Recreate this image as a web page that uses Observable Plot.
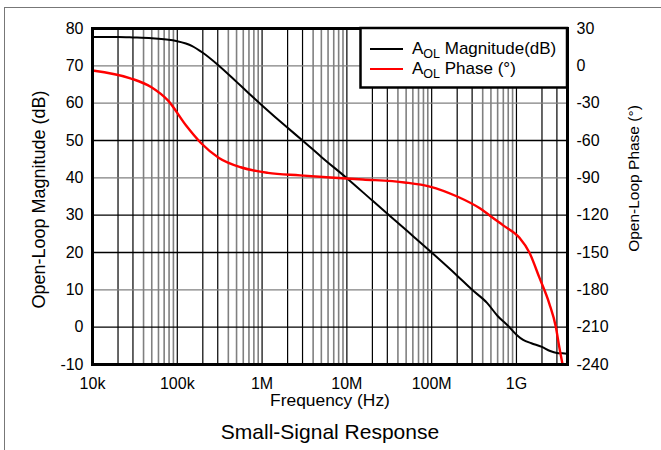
<!DOCTYPE html>
<html><head><meta charset="utf-8">
<script src="https://cdn.jsdelivr.net/npm/d3@7"></script>
<script src="https://cdn.jsdelivr.net/npm/@observablehq/plot@0.6"></script>
<style>
body{margin:0;background:#fff;}
#chart{position:relative;width:661px;height:450px;overflow:hidden;background:#fff;}
#frameTop{position:absolute;left:4px;top:7px;width:657px;height:0;border-top:1.5px solid #777;}
#frameLeft{position:absolute;left:4px;top:7px;width:0;height:443px;border-left:1.5px solid #777;}
</style></head><body>
<div id="chart"><div id="frameTop"></div><div id="frameLeft"></div></div>
<script>
// Magnitude (dB) vs frequency (Hz)
const magFreq = [1e4, 2e4, 3e4, 5e4, 7e4, 1e5, 1.5e5, 2e5, 3e5, 5e5, 7e5, 1e6, 2e6, 3e6, 5e6, 1e7, 2e7, 5e7, 1e8, 2e8, 3e8, 4.5e8, 6e8, 8e8, 1e9, 1.2e9, 1.5e9, 2e9, 2.5e9, 3e9, 3.5e9, 4e9];
const magDb   = [77.7, 77.7, 77.6, 77.4, 77.1, 76.6, 75.3, 73.5, 70.3, 65.7, 62.6, 59.4, 53.4, 50.0, 45.6, 39.9, 33.9, 26.0, 20.0, 13.8, 10.0, 6.5, 3.0, 0.3, -2.0, -3.4, -4.3, -5.3, -6.4, -6.9, -7.0, -7.1];
// Phase (degrees) vs frequency (Hz)
const phaseFreq = [1e4, 2.8e4, 4.9e4, 7.8e4, 1.27e5, 1.9e5, 3.1e5, 5.6e5, 1.17e6, 2.8e6, 6.4e6, 1.55e7, 4.8e7, 9.5e7, 2e8, 3.7e8, 4.8e8, 6.9e8, 1.08e9, 1.42e9, 1.86e9, 2.44e9, 2.92e9, 3.2e9, 3.5e9];
const phaseDeg  = [-3.7, -10, -17, -28, -48, -62, -74, -81.5, -86, -88, -89.7, -91.3, -93.7, -97, -105, -114.5, -120, -128, -138, -150, -170, -191, -210, -226, -240];
// Axes
const xTicks = [1e4, 1e5, 1e6, 1e7, 1e8, 1e9];
const xTickLabels = ["10k", "100k", "1M", "10M", "100M", "1G"];
const dbTicks = [-10, 0, 10, 20, 30, 40, 50, 60, 70, 80];
const phaseTicks = [-240, -210, -180, -150, -120, -90, -60, -30, 0, 30];
const xDomain = [1e4, 4e9];
const seriesNames = ["Magnitude(dB)", "Phase (°)"];

// phase -> dB-axis position (right axis is aligned tick for tick with the left one)
const phaseToDb = p => dbTicks[0] + (p - phaseTicks[0]) * (dbTicks[dbTicks.length-1] - dbTicks[0]) / (phaseTicks[phaseTicks.length-1] - phaseTicks[0]);

const magData = magFreq.map((f, i) => ({f, v: magDb[i]}));
const phaseData = phaseFreq.map((f, i) => ({f, v: phaseToDb(phaseDeg[i])}));

// log grid positions
const gridX = [];
for (let e = 4; e <= 9; e++) for (let m = 1; m <= 9; m++) {
  const v = m * Math.pow(10, e);
  if (v > xDomain[0] && v < xDomain[1]) gridX.push({v, m});
}
const blackGridDb = [50, 30, 20, 0];
const gridY = dbTicks.filter(d => d > dbTicks[0] && d < dbTicks[dbTicks.length-1]);

const font = "'Liberation Sans', Arial, sans-serif";
const plot = Plot.plot({
  width: 661, height: 450,
  marginLeft: 92, marginRight: 94, marginTop: 28, marginBottom: 86,
  style: {fontFamily: font, fontSize: "16px", color: "#000", background: "transparent"},
  x: {type: "log", domain: xDomain},
  y: {domain: [dbTicks[0], dbTicks[dbTicks.length-1]]},
  marks: [
    Plot.ruleX(gridX, {x: "v", stroke: d => d.m <= 3 ? "#000" : "#808080", strokeWidth: d => d.m <= 3 ? 1.2 : 1.6}),
    Plot.ruleY(gridY, {y: d => d, stroke: d => blackGridDb.includes(d) ? "#000" : "#808080", strokeWidth: 1.4}),
    Plot.line(magData, {x: "f", y: "v", stroke: "#000", strokeWidth: 2, curve: "monotone-x"}),
    Plot.line(phaseData, {x: "f", y: "v", stroke: "#ff0000", strokeWidth: 2.4, curve: "monotone-x", clip: true}),
    Plot.axisX(xTicks, {anchor: "bottom", tickSize: 0, tickPadding: 13, tickFormat: d => xTickLabels[xTicks.indexOf(d)], label: null, fontSize: 16}),
    Plot.axisY(dbTicks, {anchor: "left", tickSize: 0, tickPadding: 9, tickFormat: d => String(d), label: null, fontSize: 16}),
    Plot.axisY(dbTicks, {anchor: "right", tickSize: 0, tickPadding: 9, tickFormat: d => String(phaseTicks[dbTicks.indexOf(d)]), label: null, fontSize: 16}),
    Plot.frame({stroke: "#000", strokeWidth: 3}),
    Plot.text(["Open-Loop Magnitude (dB)"], {frameAnchor: "left", textAnchor: "middle", dx: -53, dy: 3, rotate: -90, text: d => d, fontSize: 18}),
    Plot.text(["Open-Loop Phase (°)"], {frameAnchor: "right", textAnchor: "middle", dx: 67, dy: -18, rotate: -90, text: d => d, fontSize: 15.5}),
    Plot.text(["Frequency (Hz)"], {frameAnchor: "bottom", dy: 41.5, text: d => d, fontSize: 17.4}),
    Plot.text(["Small-Signal Response"], {frameAnchor: "bottom", dy: 74, text: d => d, fontSize: 21})
  ]
});
document.getElementById("chart").appendChild(plot);
plot.style.position = "absolute"; plot.style.left = "0"; plot.style.top = "0";

// Legend (inside the plot's top-right corner)
const svg = d3.select(plot);
const g = svg.append("g").attr("font-family", font).attr("text-anchor", "start");
g.append("rect").attr("x", 360.5).attr("y", 28).attr("width", 206.5).attr("height", 59.5)
  .attr("fill", "#fff").attr("stroke", "#000").attr("stroke-width", 2.5);
const legColors = ["#000", "#ff0000"];
seriesNames.forEach((name, i) => {
  const y = 49 + i * 20;
  g.append("line").attr("x1", 370).attr("x2", 403).attr("y1", y).attr("y2", y)
    .attr("stroke", legColors[i]).attr("stroke-width", 2.2);
  const t = g.append("text").attr("x", 412).attr("y", y + 5).attr("font-size", 17).attr("fill", "#000");
  t.append("tspan").text("A");
  t.append("tspan").attr("font-size", 12.5).attr("dy", 3.5).text("OL");
  t.append("tspan").attr("dy", -3.5).text(" " + name);
});
</script>
</body></html>
